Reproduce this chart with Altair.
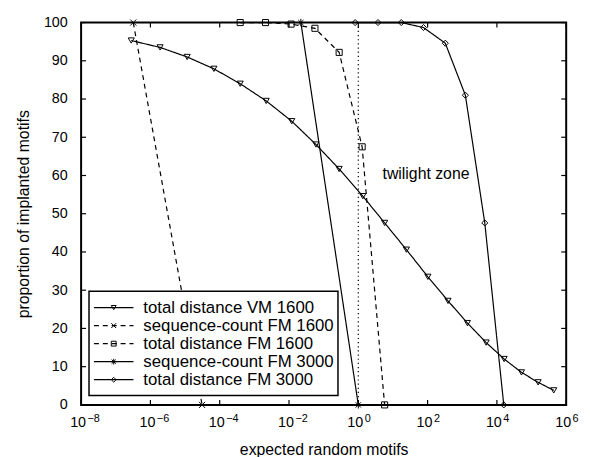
import altair as alt
import pandas as pd

# ---------------- data ----------------
series_names = [
    "total distance VM 1600",
    "sequence-count FM 1600",
    "total distance FM 1600",
    "sequence-count FM 3000",
    "total distance FM 3000",
]

vm1600_x = [2.8e-7, 1.9e-6, 1.15e-5, 6.8e-5, 3.9e-4, 2.2e-3, 1.2e-2, 6.0e-2, 0.28, 1.35,
            5.75, 24.5, 102, 389, 1410, 4900, 16200, 51300, 155000, 437000]
vm1600_y = [95.3, 93.5, 91.0, 87.9, 84.0, 79.5, 74.2, 68.1, 61.7, 54.6,
            47.6, 40.6, 33.5, 27.2, 21.4, 16.3, 12.0, 8.5, 5.9, 3.8]

sc1600_x = [3.2e-7, 3.1e-5]
sc1600_y = [100, 0]

td1600_x = [3.9e-4, 2.1e-3, 1.15e-2, 5.6e-2, 0.28, 1.29, 5.75]
td1600_y = [100, 100, 99.6, 98.5, 92.2, 67.5, 0]

sc3000_x = [0.022, 1.0]
sc3000_y = [100, 0]

td3000_x = [0.81, 3.7, 17.4, 76, 324, 1230, 4470, 15800]
td3000_y = [100, 100, 100, 98.7, 94.6, 81.0, 47.6, 0]

x_tick_values = [1e-8, 1e-6, 1e-4, 1e-2, 1, 1e2, 1e4, 1e6]
x_tick_base = ["10", "10", "10", "10", "10", "10", "10", "10"]
x_tick_exponents = ["\u22128", "\u22126", "\u22124", "\u22122", "0", "2", "4", "6"]
y_tick_values = [0, 10, 20, 30, 40, 50, 60, 70, 80, 90, 100]

zone_x = [90]
zone_y = [60.5]
zone_text = ["twilight zone"]
threshold_x = [1]

# ---------------- styling ----------------
FONT = "Liberation Sans"
W, H = 491, 387
TICK = 5

dash_range = [[1, 0], [5, 4], [5, 4], [1, 0], [1, 0]]
shape_range = [
    "triangle-down",
    "M-1,-1L1,1M-1,1L1,-1",
    "square",
    "M-1.2,0L1.2,0M0,-1.2L0,1.2M-0.85,-0.85L0.85,0.85M-0.85,0.85L0.85,-0.85",
    "diamond",
]

rows = []
for name, xs, ys in zip(series_names,
                        [vm1600_x, sc1600_x, td1600_x, sc3000_x, td3000_x],
                        [vm1600_y, sc1600_y, td1600_y, sc3000_y, td3000_y]):
    for i, (xv, yv) in enumerate(zip(xs, ys)):
        rows.append({"series": name, "x": xv, "y": yv, "i": i})
df = pd.DataFrame(rows)

xscale = alt.Scale(type="log", domain=[1e-8, 1e6], nice=False)
yscale = alt.Scale(domain=[0, 100], nice=False, zero=False)
dash_scale = alt.Scale(domain=series_names, range=dash_range)
shape_scale = alt.Scale(domain=series_names, range=shape_range)

x_axis = alt.Axis(values=x_tick_values, labels=False,
                  title="expected random motifs",
                  grid=False, domain=False, ticks=False, tickSize=0,
                  titleFontSize=16, titleFont=FONT, titleFontWeight="normal",
                  titleColor="black", titlePadding=37)
y_axis = alt.Axis(values=y_tick_values, title="proportion of implanted motifs",
                  grid=False, domain=False, ticks=False, tickSize=0, labelPadding=14,
                  labelFontSize=14.5, labelFont=FONT, labelColor="black",
                  titleFontSize=16, titleFont=FONT, titleFontWeight="normal",
                  titleColor="black", titlePadding=12, labelFlush=False)

X = alt.X("x:Q", scale=xscale, axis=x_axis)
Y = alt.Y("y:Q", scale=yscale, axis=y_axis)

lines = alt.Chart(df).mark_line(color="black", strokeWidth=1.2).encode(
    x=X, y=Y,
    detail="series:N",
    order="i:Q",
    strokeDash=alt.StrokeDash("series:N", scale=dash_scale, legend=None),
)

points = alt.Chart(df).mark_point(filled=False, color="black", size=38, strokeWidth=1,
                                  opacity=1).encode(
    x=X, y=Y,
    shape=alt.Shape("series:N", scale=shape_scale, legend=None),
)

threshold = alt.Chart(pd.DataFrame({"x": threshold_x})).mark_rule(
    color="black", strokeDash=[1.2, 3], strokeWidth=1.2).encode(x=X)

zone = alt.Chart(pd.DataFrame({"x": zone_x, "y": zone_y, "t": zone_text})).mark_text(
    font=FONT, fontSize=16, color="black", align="center", baseline="middle").encode(
    x=X, y=Y, text="t:N")

xt = pd.DataFrame({"x": x_tick_values, "b": x_tick_base, "e": x_tick_exponents})
yt = pd.DataFrame({"y": y_tick_values})
tick_style = dict(color="black", strokeWidth=1.2)
xt_bottom = alt.Chart(xt).mark_rule(**tick_style).encode(
    x=X, y=alt.value(H), y2=alt.value(H - TICK))
xt_top = alt.Chart(xt).mark_rule(**tick_style).encode(
    x=X, y=alt.value(0), y2=alt.value(TICK))
yt_left = alt.Chart(yt).mark_rule(**tick_style).encode(
    y=Y, x=alt.value(0), x2=alt.value(TICK))
yt_right = alt.Chart(yt).mark_rule(**tick_style).encode(
    y=Y, x=alt.value(W - TICK), x2=alt.value(W))
xt_base = alt.Chart(xt).mark_text(font=FONT, fontSize=14.5, color="black", align="right",
                                  baseline="middle", dx=5).encode(
    x=X, y=alt.value(H + 18.5), text="b:N")
xt_exp = alt.Chart(xt).mark_text(font=FONT, fontSize=11, color="black", align="left",
                                 baseline="middle", dx=6.5).encode(
    x=X, y=alt.value(H + 14), text="e:N")

data_group = alt.layer(lines, threshold, zone, xt_bottom, xt_top, yt_left, yt_right,
                       xt_base, xt_exp, points)

# ---------------- legend ----------------
legend_df = pd.DataFrame({"series": series_names})
legend_y = alt.Y("series:N", sort=series_names, axis=None,
                 scale=alt.Scale(type="point", domain=series_names, range=[288.5, 361.5],
                                 padding=0))
frame = alt.Chart(pd.DataFrame({"a": [0]})).mark_rect(
    fill="white", stroke="black", strokeWidth=1.5).encode(
    x=alt.value(8), x2=alt.value(260), y=alt.value(272), y2=alt.value(377.5))
leg_lines = alt.Chart(legend_df).mark_rule(color="black", strokeWidth=1.2).encode(
    x=alt.value(13), x2=alt.value(53), y=legend_y,
    strokeDash=alt.StrokeDash("series:N", scale=dash_scale, legend=None))
leg_points = alt.Chart(legend_df).mark_point(filled=False, color="black", size=24,
                                             strokeWidth=1, opacity=1).encode(
    x=alt.value(33), y=legend_y,
    shape=alt.Shape("series:N", scale=shape_scale, legend=None))
leg_text = alt.Chart(legend_df).mark_text(font=FONT, fontSize=17, color="black",
                                          align="left", baseline="middle").encode(
    x=alt.value(63), y=legend_y, text="series:N")
legend_group = alt.layer(frame, leg_lines, leg_points, leg_text)

plot_frame = alt.Chart(pd.DataFrame({"a": [0]})).mark_rect(
    filled=False, stroke="black", strokeWidth=2).encode(
    x=alt.value(0), x2=alt.value(W), y=alt.value(0), y2=alt.value(H))

chart = alt.layer(data_group, legend_group, plot_frame).resolve_scale(
    y="independent").properties(
    width=W, height=H,
    background="white",
    autosize=alt.AutoSizeParams(type="none"),
    padding={"left": 74, "top": 12, "right": 16, "bottom": 50},
).configure_view(stroke=None)

chart.save("out.html", embed_options={"renderer": "svg", "actions": False})
